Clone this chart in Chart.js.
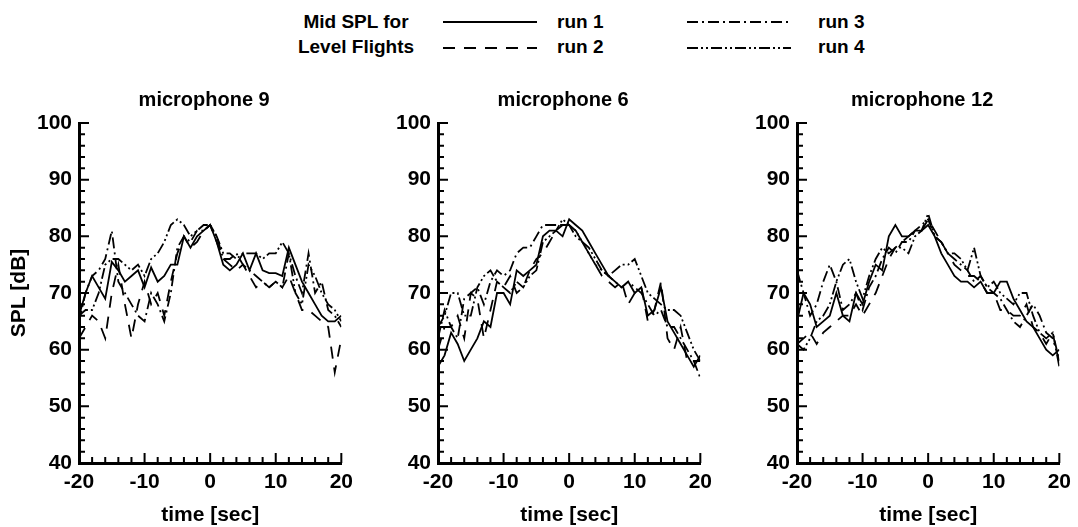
<!DOCTYPE html>
<html>
<head>
<meta charset="utf-8">
<script src="https://cdn.jsdelivr.net/npm/chart.js@4.4.1/dist/chart.umd.min.js"></script>
<style>
  body { margin: 0; width: 1078px; height: 527px; background: #fff; position: relative; overflow: hidden;
         font-family: "Liberation Sans", Arial, sans-serif; font-weight: bold; color: #000; }
  canvas { position: absolute; top: 80px; }
  .lt { position: absolute; font-size: 19px; line-height: 25px; }
  .lg { position: absolute; }
</style>
</head>
<body>
<div class="lt" style="left:281px;top:9px;width:150px;text-align:center">Mid SPL for<br>Level Flights</div>
<svg class="lg" style="left:440px;top:10px" width="100" height="50">
  <line x1="3" y1="12" x2="97" y2="12" stroke="#000" stroke-width="1.8"/>
  <line x1="3" y1="38" x2="97" y2="38" stroke="#000" stroke-width="1.8" stroke-dasharray="12,9"/>
</svg>
<div class="lt" style="left:557px;top:9px">run 1</div>
<div class="lt" style="left:557px;top:34px">run 2</div>
<svg class="lg" style="left:684px;top:10px" width="110" height="50">
  <line x1="3" y1="12" x2="107" y2="12" stroke="#000" stroke-width="1.8" stroke-dasharray="11,4,2,4"/>
  <line x1="3" y1="38" x2="107" y2="38" stroke="#000" stroke-width="1.8" stroke-dasharray="11,3,2,3,2,3"/>
</svg>
<div class="lt" style="left:818px;top:9px">run 3</div>
<div class="lt" style="left:818px;top:34px">run 4</div>

<canvas id="mic9" width="360" height="448" style="left:0px"></canvas>
<canvas id="mic6" width="360" height="448" style="left:359px"></canvas>
<canvas id="mic12" width="360" height="448" style="left:718px"></canvas>

<script>
const times = [-20, -19, -18, -17, -16, -15, -14, -13, -12, -11, -10, -9, -8, -7, -6, -5, -4, -3, -2, -1, 0,
  1, 2, 3, 4, 5, 6, 7, 8, 9, 10, 11, 12, 13, 14, 15, 16, 17, 18, 19, 20];

const runLabels = ["run 1", "run 2", "run 3", "run 4"];

// microphone 9
const mic9Run1 = [66, 70, 73, 71, 69, 75.5, 74, 72, 73, 74, 71, 74.5, 72, 73, 75, 75, 80, 78, 80, 81, 82,
  79, 75, 74, 75, 77, 74, 77, 74, 73.5, 73.5, 73, 78, 75, 72, 70, 68, 66, 65, 65, 66];
const mic9Run2 = [62, 64, 66, 65, 62, 70, 75, 68, 62, 68, 72, 68, 70, 66, 72, 77, 80, 78, 79, 81, 82,
  79, 76, 75, 74, 75, 73, 71, 72, 71, 72, 71, 73, 70, 67, 67, 66, 65, 64, 56, 62];
const mic9Run3 = [65, 70, 73, 74, 76, 81, 72, 70, 68, 66, 65, 70, 68, 65, 70, 78, 80, 79, 81, 81, 82,
  80, 76, 76, 77, 75, 74, 73, 72, 71, 72, 71, 77, 73, 70, 77, 70, 72, 67, 66, 64];
const mic9Run4 = [66, 67, 67, 70, 75, 76, 76, 75, 74, 75, 73, 76, 77, 79, 82, 83, 82, 80, 81, 82, 82,
  80, 77, 77, 76, 77, 77, 77, 76, 77, 77, 79, 77, 70, 68, 75, 73, 70, 68, 67, 65];

// microphone 6
const mic6Run1 = [57, 59, 63, 61, 58, 60, 62, 65, 64, 70, 70, 68, 74, 73, 74, 75, 80, 81, 81, 80, 83,
  82, 81, 79, 77, 75, 73, 72, 71, 72, 70, 71, 66, 67, 71, 65, 63, 61, 59, 57, 59];
const mic6Run2 = [60, 64, 64, 66, 62, 70, 69, 62, 67, 72, 71, 73, 70, 71, 74, 76, 77, 79, 81, 82, 82,
  81, 79, 77, 75, 73, 72, 71, 72, 68, 70, 71, 65, 67, 72, 62, 60, 64, 58, 58, 58];
const mic6Run3 = [62, 67, 64, 62, 69, 70, 71, 68, 72, 74, 73, 74, 77, 78, 78, 80, 82, 82, 82, 82, 82,
  81, 79, 77, 75, 74, 73, 72, 71, 72, 71, 70, 68, 66, 67, 64, 64, 62, 60, 58, 55];
const mic6Run4 = [64, 66, 70, 70, 66, 66, 71, 73, 74, 72, 71, 70, 72, 71, 73, 74, 79, 80, 81, 83, 82,
  80, 79, 78, 76, 74, 73, 74, 75, 75, 76, 73, 70, 69, 68, 67, 67, 66, 63, 60, 58];

// microphone 12
const mic12Run1 = [65, 70, 68, 64, 65, 66, 70, 66, 65, 70, 68, 72, 75, 74, 80, 82, 80, 80, 81, 81, 82,
  80, 77, 75, 73, 72, 72, 71, 72, 70, 70, 72, 72, 69, 67, 65, 64, 62, 60, 59, 60];
const mic12Run2 = [61, 62, 63, 61, 63, 64, 65, 66, 66, 68, 66, 68, 70, 73, 76, 78, 79, 80, 81, 81, 83,
  81, 79, 77, 75, 74, 73, 73, 72, 70, 70, 67, 67, 66, 66, 68, 64, 63, 61, 63, 57];
const mic12Run3 = [74, 70, 66, 68, 72, 75, 72, 67, 68, 70, 67, 71, 73, 76, 78, 77, 79, 79, 81, 82, 83,
  80, 79, 77, 76, 75, 74, 72, 73, 71, 70, 69, 67, 65, 64, 66, 68, 66, 63, 62, 58];
const mic12Run4 = [61, 60, 62, 65, 66, 68, 72, 75, 76, 72, 69, 73, 76, 78, 77, 78, 78, 77, 80, 81, 84,
  80, 79, 77, 77, 76, 74, 78, 73, 71, 72, 70, 69, 68, 70, 70, 66, 63, 62, 63, 58];

const dashes = [[], [12, 9], [11, 4, 2, 4], [11, 3, 2, 3, 2, 3]];
const family = "'Liberation Sans', Arial, sans-serif";
const tickFont = { family: family, weight: "bold", size: 21 };
const axisFont = { family: family, weight: "bold", size: 21 };

// inward ticks, major every 10, minor every 2
const inwardTicks = {
  id: "inwardTicks",
  afterDatasetsDraw(chart) {
    const ctx = chart.ctx, xs = chart.scales.x, ys = chart.scales.y;
    const a = chart.chartArea;
    ctx.save();
    ctx.strokeStyle = "#000";
    ctx.lineWidth = 2;
    ctx.beginPath();
    for (let v = 40; v <= 100; v += 2) {
      const y = ys.getPixelForValue(v);
      const len = v % 10 === 0 ? 10 : 6;
      ctx.moveTo(a.left, y);
      ctx.lineTo(a.left + len, y);
    }
    for (let v = -20; v <= 20; v += 2) {
      const x = xs.getPixelForValue(v);
      const len = v % 10 === 0 ? 10 : 6;
      ctx.moveTo(x, a.bottom);
      ctx.lineTo(x, a.bottom - len);
    }
    ctx.stroke();
    ctx.restore();
  }
};

const panelTitle = {
  id: "panelTitle",
  afterDraw(chart, args, opts) {
    const ctx = chart.ctx, a = chart.chartArea;
    ctx.save();
    ctx.font = "bold 20px " + family;
    ctx.fillStyle = "#000";
    ctx.textAlign = "center";
    ctx.textBaseline = "middle";
    ctx.fillText(opts.text, (a.left + a.right) / 2 - 6, a.top - 23);
    ctx.restore();
  }
};

function makePanel(id, title, runs, showYTitle) {
  new Chart(document.getElementById(id), {
    type: "line",
    data: {
      datasets: runs.map((vals, i) => ({
        label: runLabels[i],
        data: times.map((t, k) => ({ x: t, y: vals[k] })),
        borderColor: "#000",
        borderWidth: 1.8,
        borderDash: dashes[i],
        pointRadius: 0,
        tension: 0,
        fill: false
      }))
    },
    options: {
      responsive: false,
      animation: false,
      events: [],
      layout: { padding: { top: 43, right: 13, left: 0, bottom: 0 } },
      plugins: {
        legend: { display: false },
        tooltip: { enabled: false },
        panelTitle: { text: title }
      },
      scales: {
        x: {
          type: "linear", min: -20, max: 20,
          ticks: { stepSize: 10, font: tickFont, color: "#000", padding: 7, maxRotation: 0 },
          grid: { display: false, drawTicks: false },
          border: { display: true, width: 3, color: "#000" },
          title: { display: true, text: "time [sec]", font: axisFont, color: "#000", padding: { top: 0, bottom: 0 } },
          afterFit: s => { s.height = 65; }
        },
        y: {
          min: 40, max: 100,
          ticks: { stepSize: 10, font: tickFont, color: "#000", padding: 7 },
          grid: { display: false, drawTicks: false },
          border: { display: true, width: 3, color: "#000" },
          title: { display: showYTitle, text: "SPL [dB]", font: axisFont, color: "#000", padding: { top: 7, bottom: 0 } },
          afterFit: s => { s.width = 79; }
        }
      }
    },
    plugins: [inwardTicks, panelTitle]
  });
}

makePanel("mic9", "microphone 9", [mic9Run1, mic9Run2, mic9Run3, mic9Run4], true);
makePanel("mic6", "microphone 6", [mic6Run1, mic6Run2, mic6Run3, mic6Run4], false);
makePanel("mic12", "microphone 12", [mic12Run1, mic12Run2, mic12Run3, mic12Run4], false);
</script>
</body>
</html>
